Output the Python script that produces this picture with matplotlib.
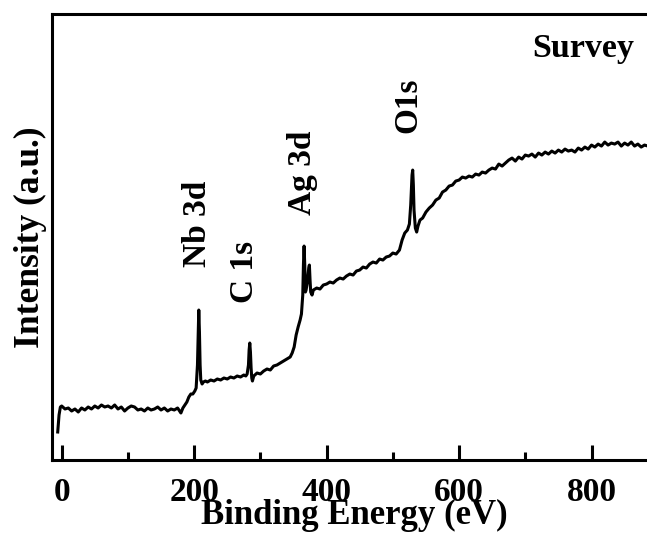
import matplotlib
matplotlib.use('Agg')
import matplotlib.pyplot as plt
from matplotlib.ticker import MultipleLocator

plt.rcParams['font.family'] = ['Liberation Serif', 'DejaVu Serif']
plt.rcParams['font.weight'] = 'bold'

# XPS survey spectrum (intensity in a.u.)
energy = [-6, -4, -2, 0, 5, 10, 15, 20, 25, 30, 35, 40, 45, 50, 55, 60, 65, 70,
          75, 80, 85, 90, 95, 100, 105, 110, 115, 120, 125, 130, 135, 140, 145,
          150, 155, 160, 165, 170, 175, 180,
          183, 186, 189, 192, 195, 198, 201, 203, 205, 206, 207, 208, 209, 210,
          212, 214, 217, 220, 225, 230, 235, 240, 245, 250, 255, 260, 265, 270,
          275, 278, 280, 282, 283, 284, 285, 286, 287, 288, 290, 295, 300, 305,
          310, 315, 320, 325, 330, 335, 340, 345, 348, 351, 354, 357, 360, 362,
          364, 365, 366, 367, 368, 369, 371, 373, 374, 375, 376, 378, 380, 385,
          390, 395, 400, 405, 410, 415, 420, 425, 430, 435, 440, 445, 450, 455,
          460, 465, 470, 475, 480, 485, 490, 495, 500, 505, 510, 514, 518, 522,
          525, 527, 529, 530, 531, 532, 534, 536, 538, 541, 545, 550, 555, 560,
          565, 570, 575, 580, 585, 590, 595, 600, 605, 610, 615, 620, 625, 630,
          635, 640, 645, 650, 655, 660, 665, 670, 675, 680, 685, 690, 695, 700,
          705, 710, 715, 720, 725, 730, 735, 740, 745, 750, 755, 760, 765, 770,
          775, 780, 785, 790, 795, 800, 805, 810, 815, 820, 825, 830, 835, 840,
          845, 850, 855, 860, 865, 870, 875, 880, 885, 890, 895, 900]
intensity = [28, 45, 53, 54, 51, 52, 49, 51, 48, 52, 50, 53, 51, 54, 52, 55, 53, 54,
             52, 55, 51, 53, 49, 52, 54, 53, 50, 51, 49, 52, 50, 51, 53,
             50, 52, 49, 51, 50, 52, 47,
             52, 55, 58, 63, 66, 66, 69, 72, 95, 125, 150, 128, 95, 80,
             76, 78, 79, 78, 80, 79, 81, 80, 82, 81, 83, 82, 84, 83,
             85, 84, 86, 95, 110, 117, 108, 92, 82, 79, 84, 87, 86, 89,
             91, 90, 94, 95, 97, 99, 101, 103, 107, 113, 125, 133, 140, 146,
             165, 195, 214, 195, 168, 170, 178, 192, 195, 180, 168, 165, 170, 172,
             171, 175, 176, 178, 177, 180, 182, 181, 184, 186, 185, 189, 190, 193,
             192, 196, 198, 197, 201, 200, 203, 204, 207, 206, 210, 220, 227, 230,
             236, 255, 285, 290, 275, 250, 232, 228, 234, 240, 242, 248, 252, 255,
             260, 262, 268, 270, 274, 275, 279, 280, 283, 282, 284, 283, 286, 285,
             288, 287, 290, 292, 291, 296, 294, 297, 300, 302, 299, 303, 301, 305,
             304, 306, 303, 307, 305, 308, 306, 309, 307, 310, 308, 311, 309, 310,
             308, 312, 310, 313, 311, 315, 313, 316, 314, 318, 315, 317, 316, 318,
             314, 317, 315, 318, 314, 316, 313, 315, 314, 316, 313, 315]

peak_labels = ['Nb 3d', 'C 1s', 'Ag 3d', 'O1s']
label_x = [205, 276, 364, 523]
label_y = [193, 157, 245, 327]

fig = plt.figure(figsize=(6.47, 5.34), dpi=100)
ax = fig.add_axes([0.080, 0.1386, 0.9366, 0.835])

ax.plot(energy, intensity, color='black', lw=2.2)

for name, lx, ly in zip(peak_labels, label_x, label_y):
    ax.text(lx, ly, name, rotation=90, ha='center', va='bottom',
            fontsize=24, fontweight='bold')
ax.text(864, 403, 'Survey', ha='right', va='baseline', fontsize=24.5, fontweight='bold')

ax.set_xlim(-15, 900)
ax.set_ylim(0, 446)
ax.xaxis.set_major_locator(MultipleLocator(200))
ax.xaxis.set_minor_locator(MultipleLocator(100))
ax.set_yticks([])
ax.tick_params(axis='x', which='major', direction='in', length=11, width=2.2,
               labelsize=24, pad=12)
ax.tick_params(axis='x', which='minor', direction='in', length=6, width=2.2)
for side in ['left', 'bottom', 'top']:
    ax.spines[side].set_linewidth(2.2)
ax.spines['right'].set_visible(False)

ax.set_xlabel('Binding Energy (eV)', fontsize=25, fontweight='bold', labelpad=-6.5)
ax.set_ylabel('Intensity (a.u.)', fontsize=25.5, fontweight='bold')
ax.yaxis.set_label_coords(-0.008, 0.5)

fig.savefig('out.png', dpi=100)
